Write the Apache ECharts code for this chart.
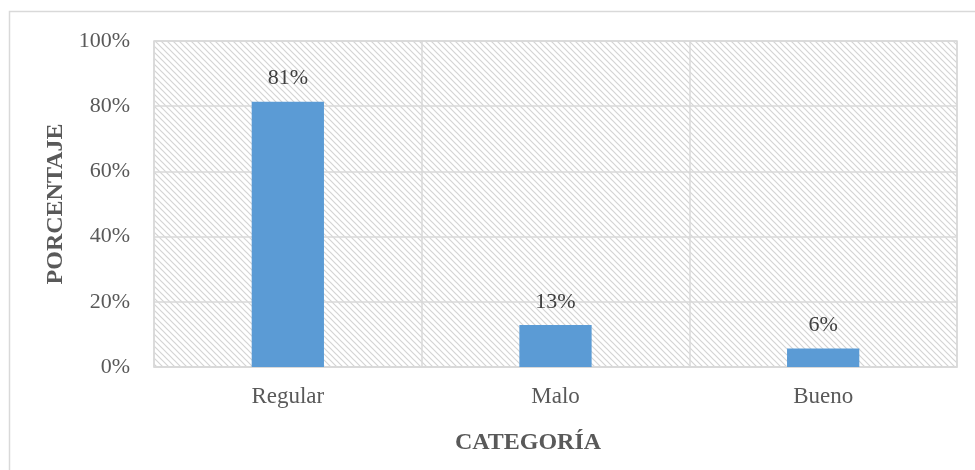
<!DOCTYPE html>
<html>
<head>
<meta charset="utf-8">
<script src="https://cdn.jsdelivr.net/npm/echarts@6/dist/echarts.min.js"></script>
<style>
	html, body { margin: 0; padding: 0; background: #fff; }
	#chart { width: 975px; height: 470px; }
</style>
</head>
<body>
<div id="chart"></div>
<script>
	// datos
	var categorias = ['Regular', 'Malo', 'Bueno'];
	var porcentajes = [81.4, 12.9, 5.7];
	var ticksY = [0, 20, 40, 60, 80, 100];

	// trama diagonal del area de trazado
	function hatch(){
		var c = document.createElement('canvas');
		c.width = 6; c.height = 6;
		var ctx = c.getContext('2d');
		ctx.fillStyle = '#ffffff';
		ctx.fillRect(0, 0, 6, 6);
		ctx.strokeStyle = '#d4d4d4';
		ctx.lineWidth = 1.2;
		ctx.beginPath();
		ctx.moveTo(-1, -1); ctx.lineTo(7, 7);
		ctx.moveTo(-4, 2); ctx.lineTo(4, 10);
		ctx.moveTo(2, -4); ctx.lineTo(10, 4);
		ctx.stroke();
		return c;
	}

	var chart = echarts.init(document.getElementById('chart'));
	var fuente = '"Liberation Serif", "Times New Roman", serif';
	var option = {
		animation: false,
		textStyle: { fontFamily: fuente },
		graphic: [{
			type: 'rect',
			shape: { x: 9.5, y: 11.5, width: 980, height: 480 },
			style: { fill: 'none', stroke: '#d9d9d9', lineWidth: 1.5 },
			z: -10
		}, {
			type: 'text',
			x: 528, y: 443,
			style: {
				text: 'CATEGORÍA',
				font: 'bold 24px ' + fuente,
				fill: '#595959',
				align: 'center',
				verticalAlign: 'middle'
			}
		}],
		grid: {
			left: 154, top: 41, right: 18, bottom: 103,
			show: true,
			backgroundColor: { image: hatch(), repeat: 'repeat' },
			borderColor: '#d9d9d9', borderWidth: 1.5
		},
		xAxis: {
			type: 'category',
			data: categorias,
			axisLine: { show: true, lineStyle: { color: '#d9d9d9', width: 1.5 } },
			axisTick: { show: false },
			axisLabel: { fontFamily: fuente, fontSize: 23, color: '#595959', margin: 18 },
			splitLine: { show: true, lineStyle: { color: '#d9d9d9', width: 1.5 } }
		},
		yAxis: {
			type: 'value',
			min: 0, max: 100, interval: 20,
			name: 'PORCENTAJE',
			nameLocation: 'middle',
			nameGap: 81,
			nameRotate: 90,
			nameTextStyle: { fontFamily: fuente, fontSize: 24, fontWeight: 'bold', color: '#595959' },
			axisLine: { show: false },
			axisTick: { show: false },
			axisLabel: {
				fontFamily: fuente, fontSize: 22, color: '#595959', margin: 24,
				padding: [4, 0, 0, 0],
				formatter: function(v){ return ticksY.indexOf(v) >= 0 ? v + '%' : ''; }
			},
			splitLine: { show: true, lineStyle: { color: '#d9d9d9', width: 1.5 } }
		},
		series: [{
			type: 'bar',
			data: porcentajes,
			barWidth: '27%',
			itemStyle: { color: '#5b9bd5' },
			label: {
				show: true,
				position: 'top',
				distance: 12,
				fontFamily: fuente,
				fontSize: 22,
				color: '#404040',
				formatter: function(p){ return Math.round(p.value) + '%'; }
			}
		}]
	};
	chart.setOption(option);
</script>
</body>
</html>
